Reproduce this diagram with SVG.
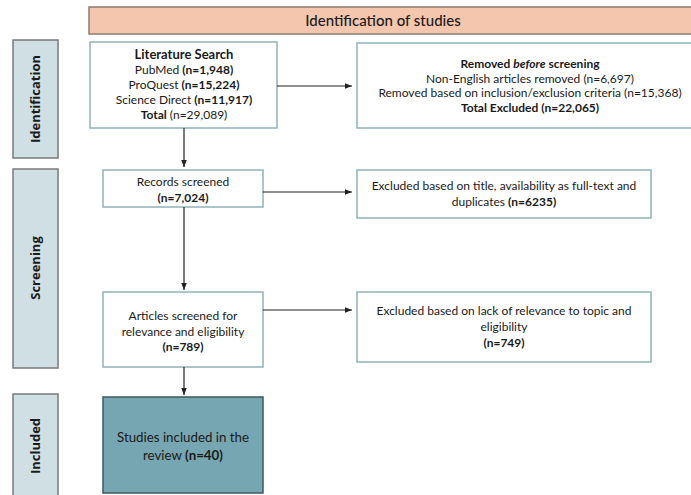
<svg xmlns="http://www.w3.org/2000/svg" width="691" height="495" viewBox="0 0 691 495">
<defs>
<style>
.t{font-family:Lato,"Open Sans","Liberation Sans",sans-serif;font-size:12px;fill:#1a1a1a;text-anchor:middle}
.b{font-weight:bold}
.side{font-family:"Open Sans","Liberation Sans",sans-serif;font-size:13px;font-weight:bold;fill:#1a1a1a;text-anchor:middle}
.box{fill:#fff;stroke:#8fb2ba;stroke-width:1.5}
.lab{fill:#d0dfe4;stroke:#7a7a7a;stroke-width:1.5}
.conn line{stroke:#222;stroke-width:1.2}
</style>
<marker id="ah" viewBox="0 0 10 10" refX="10" refY="5" markerWidth="7" markerHeight="7" markerUnits="userSpaceOnUse" orient="auto"><path d="M0,1 L10,5 L0,9 z" fill="#222"/></marker>
</defs>
<rect width="691" height="495" fill="#fff"/>
<g id="header">
<rect x="89" y="7" width="610" height="27" fill="#f4c6ad" stroke="#8a7b72" stroke-width="1.5"/>
<text class="t" x="383" y="26" style="font-size:15px;font-weight:500">Identification of studies</text>
</g>
<g id="lab-identification">
<rect class="lab" x="13" y="40" width="45" height="118"/>
<text class="side" transform="translate(40,99) rotate(-90)">Identification</text>
</g>
<g id="lab-screening">
<rect class="lab" x="13" y="169" width="45" height="199"/>
<text class="side" transform="translate(40,268) rotate(-90)">Screening</text>
</g>
<g id="lab-included">
<rect class="lab" x="13" y="394" width="45" height="106"/>
<text class="side" transform="translate(40,446) rotate(-90)">Included</text>
</g>
<g id="literature">
<rect class="box" x="90" y="42" width="187" height="86"/>
<text class="t" y="59"><tspan class="b" x="184" style="font-size:13px">Literature Search</tspan><tspan x="184" dy="15">PubMed <tspan class="b">(n=1,948)</tspan></tspan><tspan x="184" dy="15">ProQuest <tspan class="b">(n=15,224)</tspan></tspan><tspan x="184" dy="15">Science Direct <tspan class="b">(n=11,917)</tspan></tspan><tspan x="184" dy="15"><tspan class="b">Total</tspan> (n=29,089)</tspan></text>
</g>
<g id="removed">
<rect class="box" x="357" y="43" width="345" height="85"/>
<text class="t" y="68"><tspan class="b" x="530">Removed <tspan font-style="italic">before</tspan> screening</tspan><tspan x="530" dy="14.5">Non-English articles removed (n=6,697)</tspan><tspan x="530" dy="14.5">Removed based on inclusion/exclusion criteria (n=15,368)</tspan><tspan class="b" x="530" dy="14.5">Total Excluded (n=22,065)</tspan></text>
</g>
<g id="records">
<rect class="box" x="103" y="170" width="160" height="37"/>
<text class="t" y="186"><tspan x="183">Records screened</tspan><tspan class="b" x="183" dy="16">(n=7,024)</tspan></text>
</g>
<g id="excluded1">
<rect class="box" x="357" y="170" width="294" height="48"/>
<text class="t" y="190"><tspan x="504">Excluded based on title, availability as full-text and</tspan><tspan x="504" dy="16">duplicates <tspan class="b">(n=6235)</tspan></tspan></text>
</g>
<g id="articles">
<rect class="box" x="103" y="292" width="160" height="75"/>
<text class="t" y="320"><tspan x="183">Articles screened for</tspan><tspan x="183" dy="15.5">relevance and eligibility</tspan><tspan class="b" x="183" dy="15.5">(n=789)</tspan></text>
</g>
<g id="excluded2">
<rect class="box" x="357" y="292" width="294" height="70"/>
<text class="t" y="315"><tspan x="504">Excluded  based on lack of relevance to topic and</tspan><tspan x="504" dy="16">eligibility</tspan><tspan class="b" x="504" dy="16">(n=749)</tspan></text>
</g>
<g id="included">
<rect x="103" y="397" width="160" height="96" fill="#76a6b1" stroke="#3d5960" stroke-width="1.5"/>
<text class="t" y="442" style="font-size:13.3px"><tspan x="183">Studies included in the</tspan><tspan x="183" dy="17.5">review <tspan class="b">(n=40)</tspan></tspan></text>
</g>
<g id="connectors" class="conn">
<line x1="277" y1="86" x2="352" y2="86" marker-end="url(#ah)"/>
<line x1="184" y1="128" x2="184" y2="167" marker-end="url(#ah)"/>
<line x1="263" y1="192" x2="352" y2="192" marker-end="url(#ah)"/>
<line x1="184" y1="207" x2="184" y2="290" marker-end="url(#ah)"/>
<line x1="263" y1="310" x2="352" y2="310" marker-end="url(#ah)"/>
<line x1="184" y1="367" x2="184" y2="395" marker-end="url(#ah)"/>
</g>
</svg>
